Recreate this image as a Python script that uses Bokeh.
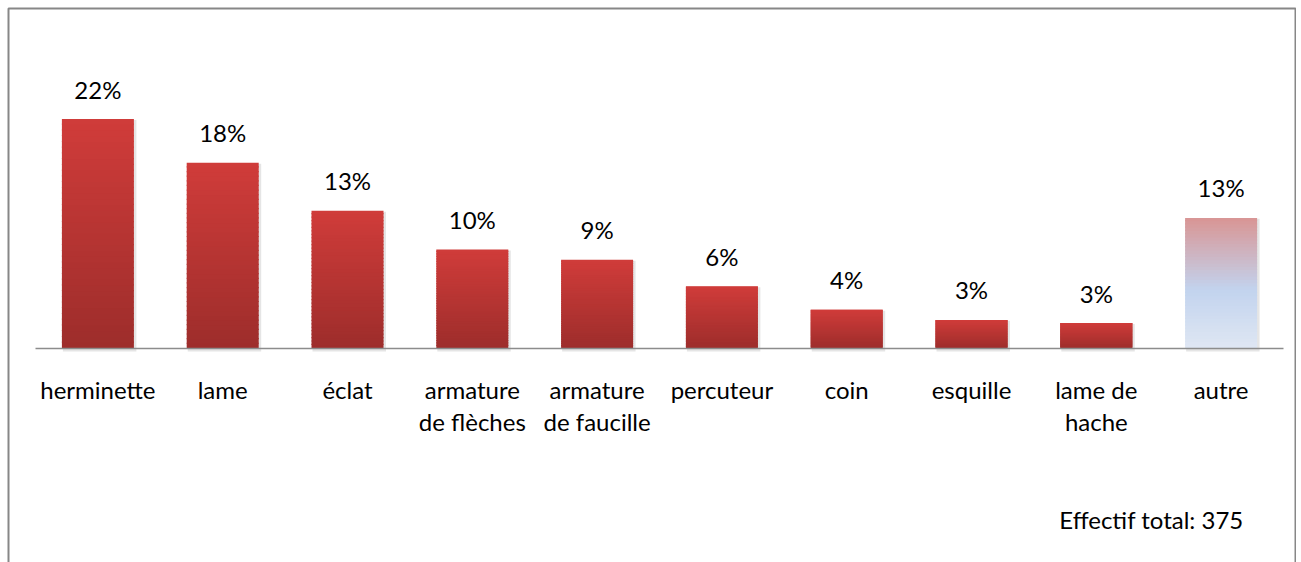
from bokeh.plotting import figure
from bokeh.models import Range1d, Label, ColumnDataSource
from bokeh.core.properties import value
from bokeh.embed import file_html
from bokeh.resources import INLINE

# ---- data ----
categories = ["herminette", "lame", "éclat", "armature\nde flèches", "armature\nde faucille",
              "percuteur", "coin", "esquille", "lame de\nhache", "autre"]
percent = [22.5, 18.2, 13.5, 9.7, 8.7, 6.1, 3.8, 2.8, 2.5, 12.8]
percent_labels = ["22%", "18%", "13%", "10%", "9%", "6%", "4%", "3%", "3%", "13%"]
total_note = "Effectif total: 375"

FONT = "Lato"
FS = "24px"
W, H = 1288, 580          # frame size
PAD = 8
PX_PER_UNIT_Y = 10.2      # pixels per percent
AXIS_Y_PX = 340           # axis line distance from frame top
PX_PER_CAT = 124.8
AXIS_X0_PX = 27

y_top = AXIS_Y_PX / PX_PER_UNIT_Y
y_bot = -(H - AXIS_Y_PX) / PX_PER_UNIT_Y
x_start = -AXIS_X0_PX / PX_PER_CAT
x_end = (W - AXIS_X0_PX) / PX_PER_CAT

p = figure(width=W + PAD, height=H + PAD, output_backend="svg", toolbar_location=None,
           x_range=Range1d(x_start, x_end), y_range=Range1d(y_bot, y_top),
           min_border=0, min_border_left=PAD, min_border_right=0,
           min_border_top=PAD, min_border_bottom=0)
p.axis.visible = False
p.grid.visible = False
p.outline_line_color = "#878787"
p.outline_line_width = 2
p.background_fill_color = "white"
p.border_fill_color = "white"

n = len(categories)
xs = [i + 0.5 for i in range(n)]
bw = 72 / PX_PER_CAT


def hex2rgb(h):
    h = h.lstrip("#")
    return tuple(int(h[i:i + 2], 16) for i in (0, 2, 4))


def mix(c1, c2, t):
    a, b = hex2rgb(c1), hex2rgb(c2)
    return "#%02x%02x%02x" % tuple(int(round(a[k] + (b[k] - a[k]) * t)) for k in range(3))


def red_grad(t):  # t = 0 bottom, 1 top
    return mix("#9d2d2b", "#d03c3a", t)


def autre_grad(t):
    # bottom very light blue -> blue at ~45% -> pink at top
    if t < 0.45:
        return mix("#dfe7f3", "#c2d3ee", t / 0.45)
    return mix("#c2d3ee", "#d99594", (t - 0.45) / 0.55)


# shadows
sx = 2.5 / PX_PER_CAT
sy = 3 / PX_PER_UNIT_Y
p.quad(left=[x - bw / 2 + sx * 0.4 for x in xs], right=[x + bw / 2 + sx for x in xs],
       bottom=[-sy] * n, top=[v - sy * 0.3 for v in percent],
       fill_color="black", fill_alpha=0.10, line_color=None)

# gradient bars via slices (each slice overlaps the next by ~1px)
N = 40
ov = 1.2 / PX_PER_UNIT_Y
L, R, B, T, C = [], [], [], [], []
for i, (x, v) in enumerate(zip(xs, percent)):
    grad = autre_grad if categories[i] == "autre" else red_grad
    for k in range(N):
        L.append(x - bw / 2)
        R.append(x + bw / 2)
        B.append(v * k / N)
        T.append(min(v, v * (k + 1) / N + ov))
        C.append(grad((k + 0.5) / N))
p.quad(source=ColumnDataSource(dict(left=L, right=R, bottom=B, top=T, color=C)),
       left="left", right="right", bottom="bottom", top="top",
       fill_color="color", line_color=None)

# axis line
p.segment(x0=[0], y0=[0], x1=[n], y1=[0], line_color="#8c8c8c", line_width=1.5)

# value labels
p.text(x=xs, y=percent, text=percent_labels, text_align="center", text_baseline="alphabetic",
       y_offset=-30, text_font=value(FONT), text_font_size=FS, text_color="black")

# category labels (split lines)
line1 = [c.split("\n")[0] for c in categories]
line2 = [c.split("\n")[1] if "\n" in c else "" for c in categories]
p.text(x=xs, y=[0] * n, text=line1, text_align="center", text_baseline="alphabetic",
       y_offset=41, text_font=value(FONT), text_font_size=FS, text_color="black")
p.text(x=xs, y=[0] * n, text=line2, text_align="center", text_baseline="alphabetic",
       y_offset=73, text_font=value(FONT), text_font_size=FS, text_color="black")

p.add_layout(Label(x=1143, y=69, x_units="screen", y_units="screen", text=total_note,
                   text_align="center", text_baseline="alphabetic",
                   text_font=FONT, text_font_size=FS, text_color="black"))

open("out.html", "w").write(file_html(p, INLINE))
